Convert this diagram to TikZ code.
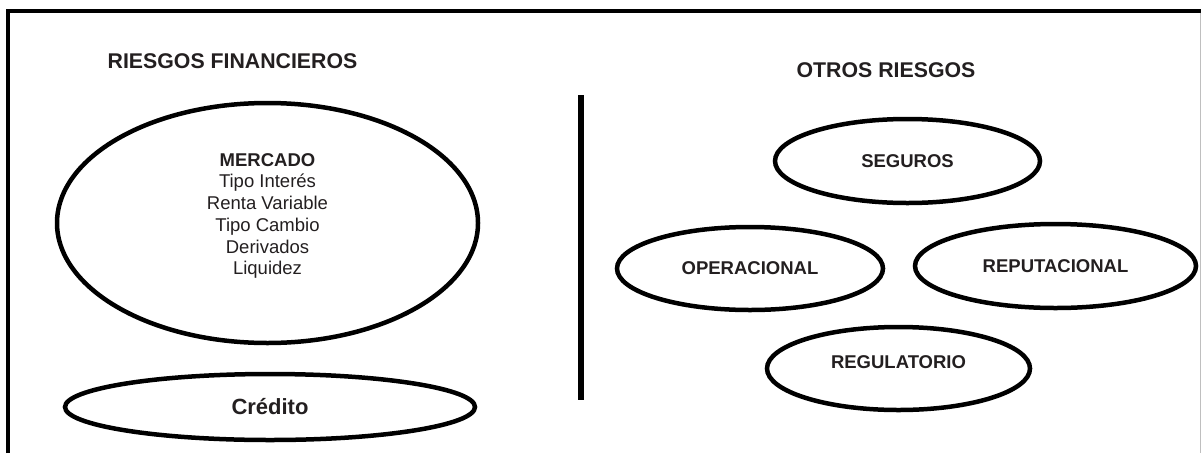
\documentclass[tikz,border=0pt]{standalone}
\usepackage{fontspec}
\setmainfont{Liberation Sans}
\usetikzlibrary{shapes.geometric}

\definecolor{txt}{RGB}{35,31,32}

\begin{document}
\begin{tikzpicture}[x=1pt,y=-1pt,
  risk/.style={draw,ellipse,line width=4.5pt,inner sep=0pt,text=txt,font=\fontsize{18.5}{21.7}\selectfont\bfseries},
  head/.style={text=txt,font=\fontsize{21.3}{24}\selectfont\bfseries}
]
\useasboundingbox (0,0) rectangle (1201,453);

% frame (open at the bottom)
\draw[line width=4pt] (8,453) -- (8,10.5) -- (1201,10.5);
\draw[black!25,line width=1pt] (1200,12.5) -- (1200,453);

% left half
\node[head] (fin) at (232.5,61.5) {RIESGOS FINANCIEROS};
\node[risk,minimum width=421pt,minimum height=240pt] (mercado) at (267.5,223) {};
\node[text=txt,align=center,font=\fontsize{18.5}{21.7}\selectfont] (mercadotxt) at (267.5,216)
  {\textbf{MERCADO}\\Tipo Interés\\Renta Variable\\Tipo Cambio\\Derivados\\Liquidez};
\node[risk,minimum width=410pt,minimum height=66pt,font=\fontsize{22}{24}\selectfont\bfseries] (credito) at (270,407) {Crédito};

% divider
\coordinate (divtop) at (581,95);
\coordinate (divbot) at (581,400);
\draw[line width=6pt] (divtop) -- (divbot);

% right half
\node[head] (otros) at (886,70) {OTROS RIESGOS};
\node[risk,minimum width=265pt,minimum height=84pt] (seguros) at (907.5,161) {SEGUROS};
\node[risk,minimum width=266pt,minimum height=83pt] (operacional) at (750,268.5) {OPERACIONAL};
\node[risk,minimum width=281pt,minimum height=84pt] (reputacional) at (1055.5,266) {REPUTACIONAL};
\node[risk,minimum width=263pt,minimum height=83pt] (regulatorio) at (898.5,368.5) {};
\node[text=txt,font=\fontsize{18.5}{21.7}\selectfont\bfseries] (regtxt) at (898.5,362.5) {REGULATORIO};
\end{tikzpicture}
\end{document}
